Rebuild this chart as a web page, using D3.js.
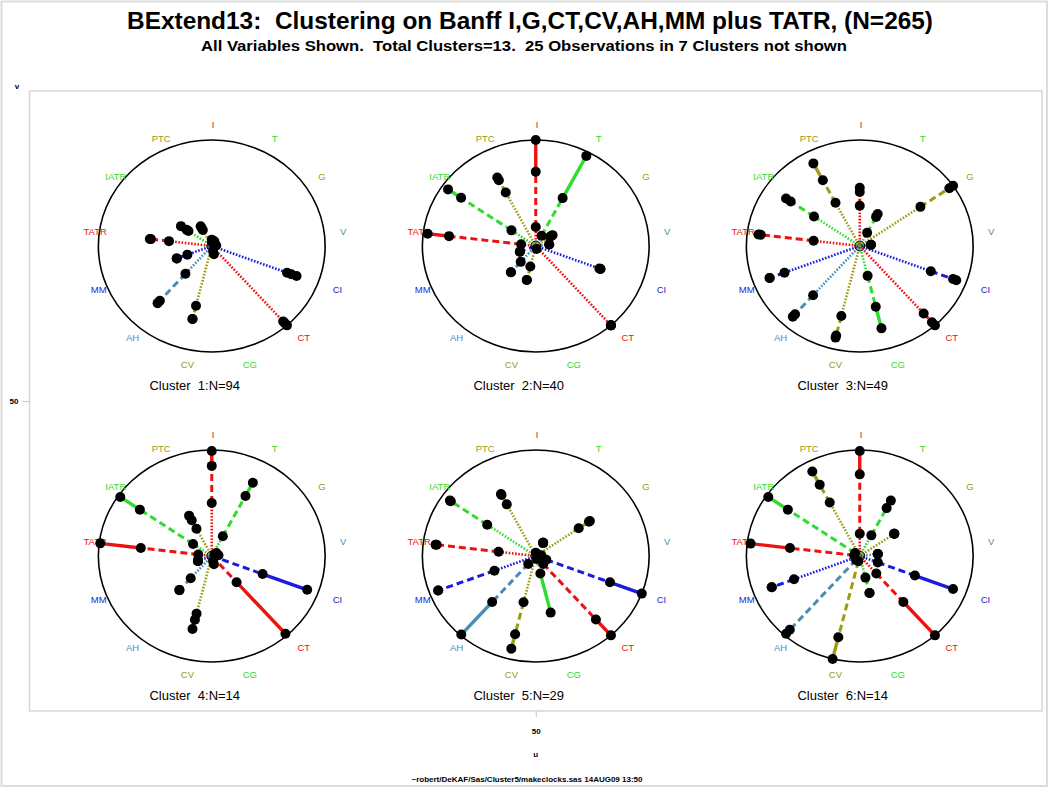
<!DOCTYPE html>
<html>
<head>
<meta charset="utf-8">
<script src="https://cdn.jsdelivr.net/npm/d3@7"></script>
<style>
  body { margin: 0; background: #fff; }
  text { font-family: "Liberation Sans", Arial, sans-serif; white-space: pre; }
</style>
</head>
<body>
<svg id="chart"></svg>
<script>
// Clock variables, clockwise from 12 o'clock
const variables = ['I', 'T', 'G', 'V', 'CI', 'CT', 'CG', 'CV', 'AH', 'MM', 'TATR', 'IATR', 'PTC'];
const clusterIds = [1, 2, 3, 4, 5, 6];
const clusterN = [94, 40, 49, 14, 29, 14];

// per variable: [end of dotted, end of dashed, end of solid] as fraction of radius
const cluster1 = [[0, 0.04, 0.06], [0, 0.03, 0.05], [0, 0, 0.03], [0, 0.02, 0.04], [0.71, 0.75, 0.80], [0.95, 0.97, 1.0],
  [0, 0.05, 0.08], [0.58, 0.71, 0.71], [0.35, 0.69, 0.72], [0.23, 0.33, 0.33], [0.38, 0.54, 0.55], [0.25, 0.27, 0.33], [0.17, 0.19, 0.21]];
const cluster2 = [[0.18, 0.70, 1.0], [0.11, 0.51, 0.96], [0.15, 0.17, 0.18], [0, 0.12, 0.12], [0.60, 0.61, 0.61], [1.0, 1.0, 1.0],
  [0, 0.02, 0.03], [0.20, 0.33, 0.33], [0.20, 0.33, 0.33], [0, 0.15, 0.15], [0.13, 0.77, 0.96], [0.26, 0.80, 0.94], [0.57, 0.70, 0.73]];
const cluster3 = [[0.38, 0.51, 0.55], [0.14, 0.31, 0.34], [0.65, 0.96, 1.0], [0, 0.10, 0.10], [0.67, 0.88, 0.91], [0.85, 0.96, 1.0],
  [0.29, 0.59, 0.80], [0.68, 0.87, 0.89], [0.62, 0.86, 0.89], [0.71, 0.85, 0.85], [0.41, 0.88, 0.90], [0.49, 0.74, 0.79], [0.46, 0.70, 0.88]];
const cluster4 = [[0.50, 0.85, 0.99], [0.21, 0.64, 0.78], [0, 0.03, 0.05], [0, 0.04, 0.06], [0, 0.48, 0.90], [0, 0.33, 0.98],
  [0, 0.05, 0.08], [0.56, 0.62, 0.71], [0.28, 0.43, 0.43], [0.13, 0.13, 0.13], [0.12, 0.63, 0.99], [0.20, 0.77, 0.98], [0.29, 0.38, 0.43]];
const cluster5 = [[0, 0.02, 0.03], [0.14, 0.14, 0.14], [0.46, 0.57, 0.58], [0, 0.03, 0.05], [0.10, 0.70, 1.0], [0.10, 0.80, 1.0],
  [0.03, 0.17, 0.55], [0.45, 0.76, 0.90], [0.10, 0.58, 0.99], [0.39, 0.92, 0.92], [0.33, 0.88, 0.89], [0.52, 0.91, 0.92], [0.55, 0.65, 0.66]];
const cluster6 = [[0.21, 0.77, 0.99], [0.22, 0.51, 0.59], [0.37, 0.37, 0.37], [0.16, 0.16, 0.16], [0.17, 0.52, 0.88], [0.22, 0.58, 1.0],
  [0.21, 0.36, 0.36], [0.05, 0.79, 1.0], [0.05, 0.93, 0.98], [0.62, 0.83, 0.83], [0.05, 0.62, 0.97], [0.05, 0.77, 0.98], [0.57, 0.76, 0.90]];
const clusters = [cluster1, cluster2, cluster3, cluster4, cluster5, cluster6];

const uTicks = [50];
const vTicks = [50];

const palette = ['#ee1111', '#2fdc2f', '#9c9c12', '#4a8db2', '#1a1ae0'];
const styles = [
  { dash: '1.6 1.6', w: 2.6 },  // dotted
  { dash: '7 4', w: 3 },        // dashed
  { dash: null, w: 3.4 }        // solid
];

const W = 1050, H = 788;
const svg = d3.select('#chart').attr('width', W).attr('height', H);
svg.append('rect').attr('width', W).attr('height', H).attr('fill', '#fff');
svg.append('rect').attr('x', 1.5).attr('y', 1.5).attr('width', 1045.5).attr('height', 784.5)
  .attr('fill', 'none').attr('stroke', '#dcdcdc').attr('stroke-width', 2);

// u / v page scales
const u = d3.scaleLinear().domain([0, 100]).range([29.5, 1042]);
const v = d3.scaleLinear().domain([0, 100]).range([711, 91]);

svg.append('rect')
  .attr('x', u(0)).attr('y', v(100))
  .attr('width', u(100) - u(0)).attr('height', v(0) - v(100))
  .attr('fill', 'none').attr('stroke', '#d6d6d6').attr('stroke-width', 1.5);

const ax = svg.append('g').attr('transform', `translate(0,${v(0)})`)
  .call(d3.axisBottom(u).tickValues(uTicks).tickSize(6).tickPadding(11));
const ay = svg.append('g').attr('transform', `translate(${u(0)},0)`)
  .call(d3.axisLeft(v).tickValues(vTicks).tickSize(7).tickPadding(4));
[ax, ay].forEach(g => {
  g.select('.domain').remove();
  g.selectAll('line').attr('stroke', '#c8c8c8');
  g.selectAll('text').attr('font-size', 8).attr('font-weight', 'bold')
    .attr('font-family', '"Liberation Sans", Arial, sans-serif');
});
svg.append('text').attr('x', u(50)).attr('y', 757).attr('text-anchor', 'middle')
  .attr('font-size', 8).attr('font-weight', 'bold').text('u');
svg.append('text').attr('x', 17).attr('y', 89).attr('text-anchor', 'middle')
  .attr('font-size', 8).attr('font-weight', 'bold').text('v');

// titles
svg.append('text').attr('x', 530).attr('y', 29).attr('text-anchor', 'middle')
  .attr('font-size', 24).attr('font-weight', 'bold')
  .attr('textLength', 806).attr('lengthAdjust', 'spacingAndGlyphs')
  .text('BExtend13:  Clustering on Banff I,G,CT,CV,AH,MM plus TATR, (N=265)');
svg.append('text').attr('x', 524).attr('y', 51).attr('text-anchor', 'middle')
  .attr('font-size', 14.5).attr('font-weight', 'bold')
  .attr('textLength', 646).attr('lengthAdjust', 'spacingAndGlyphs')
  .text('All Variables Shown.  Total Clusters=13.  25 Observations in 7 Clusters not shown');
svg.append('text').attr('x', 527).attr('y', 782).attr('text-anchor', 'middle')
  .attr('font-size', 7).attr('font-weight', 'bold')
  .attr('textLength', 231).attr('lengthAdjust', 'spacingAndGlyphs')
  .text('~robert/DeKAF/Sas/Cluster5/makeclocks.sas 14AUG09 13:50');

const ru = 11.2, rv = 17.1;
const angle = i => i * 2 * Math.PI / variables.length;

clusters.forEach((data, k) => {
  const uc = 18 + 32 * (k % 3);
  const vc = 75 - 50 * Math.floor(k / 3);
  const xs = d3.scaleLinear().domain([-1, 1]).range([u(uc - ru), u(uc + ru)]);
  const ys = d3.scaleLinear().domain([-1, 1]).range([v(vc - rv), v(vc + rv)]);
  const px = (r, i) => xs(r * Math.sin(angle(i)));
  const py = (r, i) => ys(r * Math.cos(angle(i)));

  const g = svg.append('g').attr('class', 'clock');

  g.append('ellipse')
    .attr('cx', xs(0)).attr('cy', ys(0))
    .attr('rx', xs(1) - xs(0)).attr('ry', ys(-1) - ys(0))
    .attr('fill', 'none').attr('stroke', '#000').attr('stroke-width', 1.6);

  g.selectAll('.vlab').data(variables).enter().append('text')
    .attr('class', 'vlab')
    .attr('x', (d, i) => xs(1.14 * Math.sin(angle(i))))
    .attr('y', (d, i) => ys(1.15 * Math.cos(angle(i))))
    .attr('dominant-baseline', 'central')
    .attr('font-size', 9.5)
    .attr('fill', (d, i) => palette[i % 5])
    .text(d => d);

  // spoke segments
  const segs = [];
  data.forEach((q, i) => {
    let prev = 0;
    q.forEach((r, s) => {
      if (r > prev) segs.push({ i, r0: prev, r1: r, s });
      prev = Math.max(prev, r);
    });
  });
  g.selectAll('.seg').data(segs).enter().append('line')
    .attr('class', 'seg')
    .attr('x1', d => px(d.r0, d.i)).attr('y1', d => py(d.r0, d.i))
    .attr('x2', d => px(d.r1, d.i)).attr('y2', d => py(d.r1, d.i))
    .attr('stroke', d => palette[d.i % 5])
    .attr('stroke-width', d => styles[d.s].w)
    .attr('stroke-dasharray', d => styles[d.s].dash);

  g.append('circle').attr('cx', xs(0)).attr('cy', ys(0)).attr('r', 5)
    .attr('fill', 'none').attr('stroke', '#000').attr('stroke-width', 1);
  g.append('circle').attr('cx', xs(0)).attr('cy', ys(0)).attr('r', 2.5)
    .attr('fill', 'none').attr('stroke', '#000').attr('stroke-width', 0.8);

  const dots = [];
  data.forEach((q, i) => q.forEach(r => { if (r > 0.02) dots.push({ i, r }); }));
  g.selectAll('.dot').data(dots).enter().append('circle')
    .attr('class', 'dot')
    .attr('cx', d => px(d.r, d.i)).attr('cy', d => py(d.r, d.i))
    .attr('r', 5).attr('fill', '#000');

  g.append('text')
    .attr('x', xs(-0.15)).attr('y', ys(-1.32))
    .attr('text-anchor', 'middle').attr('dominant-baseline', 'central')
    .attr('font-size', 13)
    .text(`Cluster  ${clusterIds[k]}:N=${clusterN[k]}`);
});
</script>
</body>
</html>
